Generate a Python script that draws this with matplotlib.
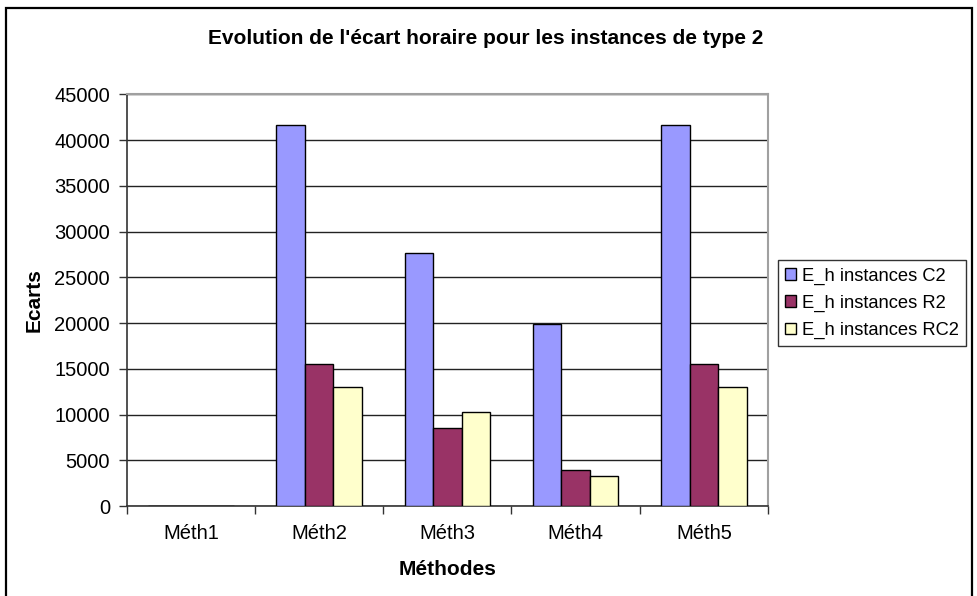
import matplotlib
matplotlib.use("Agg")
import matplotlib.pyplot as plt
from matplotlib.patches import Rectangle
import numpy as np

plt.rcParams['font.family'] = ['Liberation Sans', 'DejaVu Sans']

methodes = ["Méth1", "Méth2", "Méth3", "Méth4", "Méth5"]
series_names = ["E_h instances C2", "E_h instances R2", "E_h instances RC2"]
ecart_c2 = [0, 41600, 27600, 19900, 41600]
ecart_r2 = [0, 15500, 8500, 3900, 15500]
ecart_rc2 = [0, 13000, 10300, 3300, 13000]
couleurs = ["#9999FF", "#993366", "#FFFFCC"]

W, H = 977, 596
fig = plt.figure(figsize=(W / 100, H / 100), dpi=100)

# cadre extérieur du graphique
fig.patches.append(Rectangle((6 / W, -0.01), (972 - 6) / W, 1 - 8 / H + 0.01,
                             transform=fig.transFigure, fill=False,
                             edgecolor="black", lw=1.6, zorder=0))

ax = fig.add_axes([126.7 / W, 1 - 506 / H, (768 - 126.7) / W, (506 - 94.3) / H])

x = np.arange(len(methodes))
width = 1 / 4.5
for i, (vals, name) in enumerate(zip([ecart_c2, ecart_r2, ecart_rc2], series_names)):
    ax.bar(x + (i - 1) * width, vals, width, color=couleurs[i], edgecolor="black",
           linewidth=1.0, label=name, zorder=3)

ax.set_xlim(-0.5, len(methodes) - 0.5)
ax.set_ylim(0, 45000)
ax.set_yticks(np.arange(0, 45001, 5000))
ax.set_xticks(np.arange(-0.5, len(methodes), 1.0))
ax.set_xticklabels([])
ax.set_xticks(x, minor=True)
ax.set_xticklabels(methodes, minor=True)
ax.tick_params(axis="x", which="minor", length=0, pad=13, labelsize=14.5)
ax.tick_params(axis="x", which="major", direction="out", length=6, width=1, color="#333333")
ax.tick_params(axis="y", direction="out", length=6, width=1, color="#333333", labelsize=14.5, pad=6)

ax.grid(axis="y", color="#222222", lw=1.0, zorder=1)
for side in ["top", "right"]:
    ax.spines[side].set_color("#a0a0a0")
    ax.spines[side].set_linewidth(1.5)
for side in ["left", "bottom"]:
    ax.spines[side].set_color("#333333")
    ax.spines[side].set_linewidth(1.2)

ax.set_xlabel("Méthodes", fontsize=15, fontweight="bold", labelpad=12)
ax.set_ylabel("Ecarts", fontsize=15, fontweight="bold", labelpad=8)
fig.text(486 / W, 1 - 38 / H, "Evolution de l'écart horaire pour les instances de type 2",
         ha="center", va="center", fontsize=15, fontweight="bold")

leg = ax.legend(loc="upper left", bbox_to_anchor=(778 / W, 1 - 260 / H),
                bbox_transform=fig.transFigure, fontsize=13.2, frameon=True,
                fancybox=False, handlelength=0.6, handleheight=0.6, handletextpad=0.3,
                borderpad=0.4, borderaxespad=0, labelspacing=0.55)
leg.get_frame().set_edgecolor("black")
leg.get_frame().set_linewidth(1.0)

fig.savefig("out.png", dpi=100)
